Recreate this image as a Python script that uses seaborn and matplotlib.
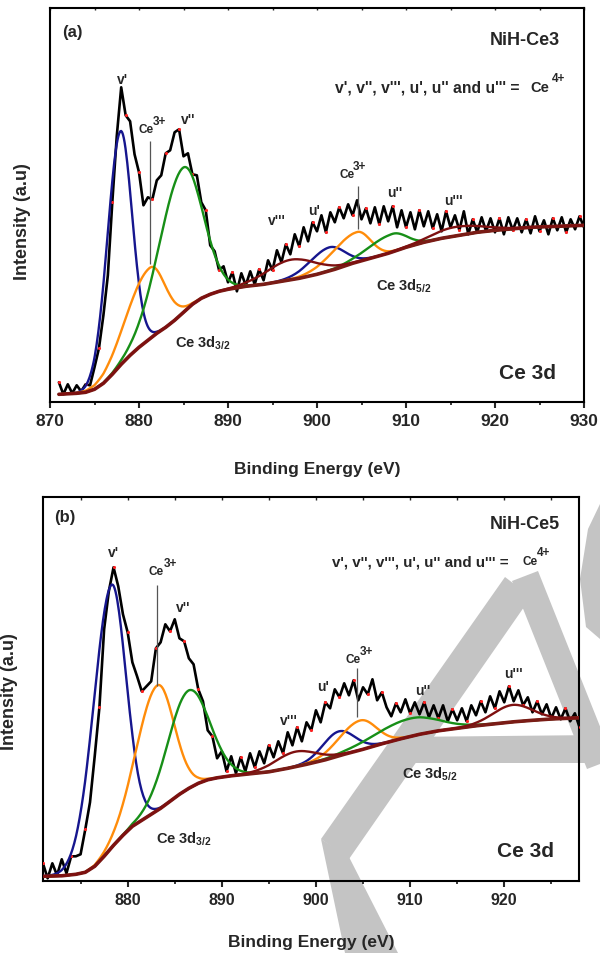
import numpy as np
import pandas as pd
import matplotlib
matplotlib.use("Agg")
import matplotlib.pyplot as plt
from matplotlib.patches import Polygon
import seaborn as sns

sns.set_style("white")
plt.rcParams["font.family"] = ["Liberation Sans", "DejaVu Sans"]
plt.rcParams["font.weight"] = "bold"
plt.rcParams["mathtext.fontset"] = "custom"
plt.rcParams["mathtext.rm"] = "Liberation Sans:bold"
plt.rcParams["mathtext.bf"] = "Liberation Sans:bold"
plt.rcParams["mathtext.it"] = "Liberation Sans:bold"
plt.rcParams["mathtext.default"] = "rm"

# ---------------- data: panel (a) NiH-Ce3 ----------------
raw_step = 0.5
raw_a_start = 871.0
raw_a = [20, 8, 18, 9, 17, 11, 18, 17, 35, 54, 87, 127, 200, 266, 315, 287, 281, 248,
         230, 197, 205, 203, 222, 227, 249, 252, 270, 273, 246, 249, 228, 227, 200, 192,
         157, 151, 132, 136, 120, 130, 111, 129, 117, 131, 118, 133, 122, 142, 132, 152,
         140, 158, 148, 168, 156, 175, 161, 180, 171, 187, 170, 190, 180, 195, 184, 198,
         187, 202, 183, 194, 179, 195, 178, 196, 181, 196, 175, 192, 175, 190, 173, 192,
         176, 191, 174, 188, 171, 191, 175, 187, 172, 191, 168, 183, 170, 185, 171, 184,
         170, 184, 168, 185, 172, 184, 170, 183, 169, 186, 171, 182, 168, 184, 172, 185,
         170, 183, 173, 186, 175]
bg_a_ev = [871, 873, 874, 875, 876, 877, 878, 879, 880, 881, 882, 883, 884, 885, 886,
           887, 888, 889, 890, 892, 894, 896, 898, 900, 902, 904, 906, 908, 910, 912,
           914, 916, 918, 920, 924, 927, 930]
bg_a = [8, 9, 10, 13, 19, 28, 38, 47, 55, 62, 69, 75, 82, 90, 98, 104, 108, 111, 113,
        116, 118, 121, 124, 128, 133, 139, 144, 149, 155, 160, 164, 167, 170, 172, 175,
        176, 177]
# component peaks (blue, orange, green, dark red): centre, height, left/right width
a_center = [[877.9, 901.4], [881.2, 904.5], [884.9, 908.45], [897.1, 915.5]]
a_height = [[234, 23.5], [71, 30], [145, 18], [20, 9]]
a_sigL = [[1.45, 2.2], [2.6, 2.7], [2.6, 2.7], [2.8, 2.5]]
a_sigR = [[1.3, 1.7], [1.7, 1.5], [2.2, 1.6], [2.7, 3.0]]

# ---------------- data: panel (b) NiH-Ce5 ----------------
raw_b_start = 871.0
raw_b = [18, 3, 18, 6, 22, 8, 25, 25, 27, 52, 79, 125, 174, 252, 290, 314, 295, 267,
         249, 219, 205, 190, 195, 200, 233, 239, 257, 250, 262, 243, 240, 223, 217, 192,
         180, 151, 145, 123, 130, 110, 125, 108, 124, 110, 128, 114, 130, 118, 136, 124,
         140, 128, 149, 136, 154, 140, 159, 151, 171, 159, 179, 173, 192, 184, 198, 186,
         201, 181, 194, 187, 202, 181, 189, 174, 165, 178, 169, 182, 168, 179, 167, 179,
         164, 176, 163, 176, 160, 172, 161, 173, 160, 176, 166, 180, 169, 185, 173, 190,
         179, 195, 180, 191, 176, 184, 169, 180, 167, 177, 163, 174, 162, 173, 160, 168,
         154]
bg_b_ev = [871, 873, 874.5, 875.5, 876.5, 877.5, 878.5, 879.5, 880.5, 881.5, 882.5,
           883.5, 884.5, 885.5, 886.5, 887.5, 888.5, 889.5, 891, 893, 895, 897, 899,
           901, 903, 905, 907, 909, 911, 913, 915, 917, 919, 921, 923, 925, 928]
bg_b = [5, 5.5, 7, 9, 15, 25, 36, 46, 55, 61, 67, 73, 80, 87, 93, 98, 101.5, 103.5,
        105.5, 107.5, 109.5, 113, 117, 121.5, 127, 132, 137.5, 142.5, 147, 150.5, 153,
        155.5, 157.5, 159.5, 161, 162.3, 163.5]
b_center = [[878.25, 902.4], [883.15, 904.7], [886.44, 910.0], [897.8, 920.9]]
b_height = [[263, 24.5], [125, 29.6], [98, 18], [15, 17]]
b_sigL = [[1.9, 1.7], [2.2, 2.2], [2.2, 3.8], [2.2, 2.1]]
b_sigR = [[1.55, 1.7], [1.75, 1.7], [2.2, 3.0], [2.2, 2.1]]

comp_colors = ["#16168e", "#ff8c0a", "#178f17", "#7e1010"]
bg_color = "#7a1c16"

# light-grey "AM" watermark pieces (figure pixels, y from top)
watermark = [
    [(505, 578), (531, 598), (349, 860), (321, 840)],
    [(321, 840), (349, 858), (398, 954), (345, 954)],
    [(512, 582), (538, 572), (613, 760), (587, 770)],
    [(400, 738), (600, 736), (600, 764), (392, 764)],
    [(600, 505), (588, 530), (580, 580), (586, 628), (600, 640)],
]


def peak(x, c, h, sl, sr):
    s = np.where(x < c, sl, sr)
    return h * np.exp(-(x - c) ** 2 / (2 * s ** 2))


def draw_panel(ax, raw_start, raw, bg_ev, bg, centers, heights, sigL, sigR):
    ev = raw_start + raw_step * np.arange(len(raw))
    df_raw = pd.DataFrame({"eV": ev, "I": raw})
    sns.lineplot(data=df_raw, x="eV", y="I", ax=ax, color="black", lw=1.9,
                 sort=False, estimator=None, zorder=2)
    sns.scatterplot(data=df_raw.iloc[::3], x="eV", y="I", ax=ax, color="#ff2020",
                    s=5, linewidth=0, zorder=3)
    grid = np.linspace(bg_ev[0], bg_ev[-1], 600)
    base = np.interp(grid, bg_ev, bg)
    curves = []
    for k in range(4):
        y = base.copy()
        for c, h, sl, sr in zip(centers[k], heights[k], sigL[k], sigR[k]):
            y = y + peak(grid, c, h, sl, sr)
        curves.append(y)
    for k in range(3):
        sns.lineplot(x=grid, y=curves[k], ax=ax, color=comp_colors[k], lw=1.7,
                     sort=False, estimator=None, zorder=4)
    sns.lineplot(x=bg_ev, y=bg, ax=ax, color=bg_color, lw=2.6, sort=False,
                 estimator=None, zorder=5)
    sns.lineplot(x=grid, y=curves[3], ax=ax, color=comp_colors[3], lw=1.7,
                 sort=False, estimator=None, zorder=6)


def style_axes(ax, xlim, ylim, major, minor, tsize, xlabel, pad):
    ax.set_facecolor("none")
    ax.set_xlim(*xlim)
    ax.set_ylim(*ylim)
    ax.set_xticks(major)
    ax.set_xticks(minor, minor=True)
    ax.set_xticklabels([str(t) for t in major], fontsize=tsize, fontweight="bold")
    ax.set_yticks([])
    ax.set_ylabel("")
    ax.set_xlabel(xlabel, fontsize=12.5, fontweight="bold", labelpad=pad)
    for s in ax.spines.values():
        s.set_linewidth(1.5)
        s.set_color("black")
    ax.tick_params(axis="x", which="major", direction="out", length=4.5, width=1.5,
                   bottom=True, top=False, pad=3)
    ax.tick_params(axis="x", which="minor", direction="out", length=2.5, width=1.3,
                   bottom=True, top=False)
    sec = ax.secondary_xaxis("top")
    sec.set_xticks(major)
    sec.set_xticks(minor, minor=True)
    sec.set_xticklabels([])
    sec.tick_params(axis="x", which="both", direction="in", length=2, width=1.0)
    sec.spines["top"].set_visible(False)


fig = plt.figure(figsize=(6, 9.54), dpi=100)
for poly in watermark:
    pts = [(x / 600, 1 - y / 954) for x, y in poly]
    fig.patches.append(Polygon(pts, closed=True, transform=fig.transFigure,
                               facecolor="#c4c4c4", edgecolor="none", zorder=-5))

ax_a = fig.add_axes([50 / 600, 1 - 403.3 / 954, 534 / 600, 394.8 / 954])
ax_b = fig.add_axes([43.3 / 600, 1 - 882.3 / 954, 536 / 600, 384 / 954])

draw_panel(ax_a, raw_a_start, raw_a, bg_a_ev, bg_a, a_center, a_height, a_sigL, a_sigR)
draw_panel(ax_b, raw_b_start, raw_b, bg_b_ev, bg_b, b_center, b_height, b_sigL, b_sigR)

style_axes(ax_a, (870, 930), (0, 394.8), [870, 880, 890, 900, 910, 920, 930],
           [875, 885, 895, 905, 915, 925], 12.5, "Binding Energy (eV)", 24)
style_axes(ax_b, (871.04, 927.97), (0, 384), [880, 890, 900, 910, 920],
           [875, 885, 895, 905, 915, 925], 11.5, "Binding Energy (eV)", 20)

fig.text(23 / 600, 1 - 222 / 954, "Intensity (a.u)", rotation=90, ha="center",
         va="center", fontsize=13, fontweight="bold")
fig.text(9.5 / 600, 1 - 692 / 954, "Intensity (a.u)", rotation=90, ha="center",
         va="center", fontsize=13, fontweight="bold")

# ---------------- annotations ----------------
peak_labels = ["v'", "v''", "v'''", "u'", "u''", "u'''"]
a_peak_pos = [(878.1, 323), (885.5, 283), (895.5, 182), (899.66, 192), (908.76, 210), (915.3, 202)]
b_peak_pos = [(878.5, 329), (885.88, 274), (897.08, 161), (900.75, 195), (911.37, 191), (921.0, 208)]
a_ce3_pos = [(880.8, 273), (903.37, 228)]
b_ce3_pos = [(883.06, 310), (903.94, 222)]
a_ce3_line = [(881.28, 138, 261), (904.6, 173, 216)]
b_ce3_line = [(883.15, 195, 296), (904.41, 164, 213)]


def annotate(ax, tag, tag_pos, name, name_pos, eq_pos, eq_size, ce4_pos, ce4_size,
             peak_pos, ce3_pos, ce3_line, d52_pos, d32_pos, big_pos):
    ax.text(*tag_pos, tag, fontsize=12, fontweight="bold", ha="left", va="center")
    ax.text(*name_pos, name, fontsize=13, fontweight="bold", ha="right", va="center")
    ax.text(*eq_pos, "v', v'', v''', u', u'' and u''' = ", fontsize=eq_size,
            fontweight="bold", ha="left", va="center")
    ax.text(ce4_pos[0], ce4_pos[1], "Ce", fontsize=ce4_size, fontweight="bold",
            ha="left", va="center")
    ax.text(ce4_pos[2], ce4_pos[3], "4+", fontsize=8.5, fontweight="bold",
            ha="left", va="center")
    for lab, (x, y) in zip(peak_labels, peak_pos):
        ax.text(x, y, lab, fontsize=10, fontweight="bold", ha="center", va="center")
    for (x, y) in ce3_pos:
        ax.text(x, y, "Ce", fontsize=8.5, fontweight="bold", ha="center", va="center")
        ax.text(x + 1.45, y + 8, "3+", fontsize=8.5, fontweight="bold", ha="center",
                va="center")
    for (x, y0, y1) in ce3_line:
        ax.vlines(x, y0, y1, color="#555555", lw=0.9, zorder=7)
    ax.text(*d52_pos, r"Ce 3d$_{5/2}$", fontsize=10.5, fontweight="bold", ha="left",
            va="center")
    ax.text(*d32_pos, r"Ce 3d$_{3/2}$", fontsize=10.5, fontweight="bold", ha="left",
            va="center")
    ax.text(*big_pos, "Ce 3d", fontsize=15, fontweight="bold", ha="left", va="center")


annotate(ax_a, "(a)", (871.35, 371), "NiH-Ce3", (927.3, 363), (902.0, 315), 11.3,
         (924.0, 315, 926.4, 324), 10.5, a_peak_pos, a_ce3_pos, a_ce3_line,
         (906.6, 117), (884.0, 60), (920.45, 30))
annotate(ax_b, "(b)", (872.18, 365), "NiH-Ce5", (925.9, 358), (901.7, 320), 10.9,
         (921.9, 320, 923.5, 329), 8.5, b_peak_pos, b_ce3_pos, b_ce3_line,
         (909.14, 108), (883.06, 43), (919.2, 31))

fig.savefig("out.png", dpi=100)
